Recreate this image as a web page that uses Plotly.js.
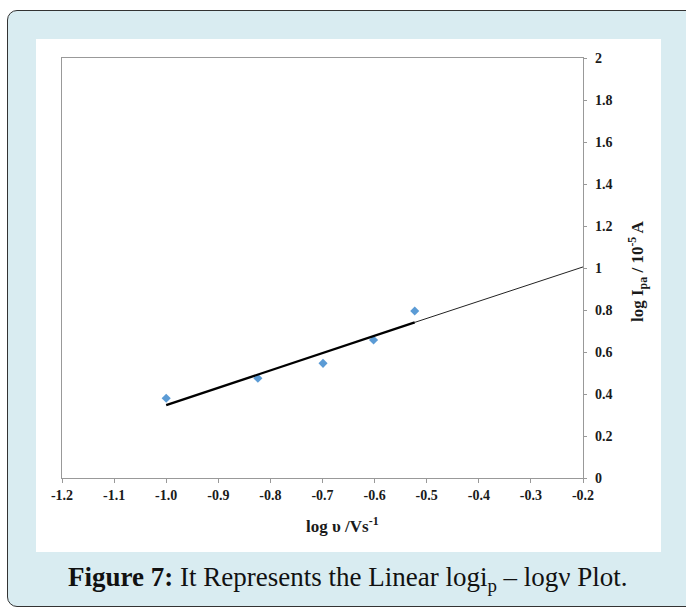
<!DOCTYPE html>
<html>
<head>
<meta charset="utf-8">
<script src="https://cdn.plot.ly/plotly-3.0.1.min.js"></script>
<style>
  html, body { margin: 0; padding: 0; background: #ffffff; width: 686px; height: 609px; overflow: hidden; }
  #frame { position: absolute; left: 7px; top: 10px; width: 700px; height: 595px;
           border: 1.5px solid #333; border-radius: 10px; background: #d9ecf1; }
  #plot { position: absolute; left: 0; top: 0; width: 686px; height: 609px; }
</style>
</head>
<body>
<div id="frame"></div>
<div id="plot"></div>
<script>
// Data
const scanLog = [-1.0, -0.824, -0.699, -0.602, -0.523];
const peakLog = [0.38, 0.475, 0.546, 0.657, 0.795];

// Trend line (thick part over data range, thin extension)
const fitX = [-1.0, -0.523];
const fitY = [0.347, 0.741];
const extX = [-0.523, -0.2];
const extY = [0.741, 1.005];

// Tick values / labels
const xTickVals = [-1.2, -1.1, -1.0, -0.9, -0.8, -0.7, -0.6, -0.5, -0.4, -0.3, -0.2];
const xTickText = ["-1.2", "-1.1", "-1.0", "-0.9", "-0.8", "-0.7", "-0.6", "-0.5", "-0.4", "-0.3", "-0.2"];
const yTickVals = [0, 0.2, 0.4, 0.6, 0.8, 1, 1.2, 1.4, 1.6, 1.8, 2];
const yTickText = ["0", "0.2", "0.4", "0.6", "0.8", "1", "1.2", "1.4", "1.6", "1.8", "2"];

const xTitle = "<b>log υ /Vs<sup>-1</sup></b>";
const yTitle = "<b>log I<sub>pa</sub> / 10<sup>-5</sup> A</b>";
const caption = "<b>Figure 7:</b> It Represents the Linear logi<sub>p</sub> – logν Plot.";

const W = 686, H = 609;
const L = 62, R = 583, T = 58, B = 478;
const px = v => (v - L) / (R - L);
const py = v => (B - v) / (B - T);
const bold = arr => arr.map(t => '<b>' + t + '</b>');

const traces = [
  { x: scanLog, y: peakLog, type: 'scatter', mode: 'markers',
    marker: { symbol: 'diamond', size: 7, color: '#5b9bd5' }, hoverinfo: 'skip' },
  { x: extX, y: extY, type: 'scatter', mode: 'lines',
    line: { color: '#222', width: 1 }, hoverinfo: 'skip' },
  { x: fitX, y: fitY, type: 'scatter', mode: 'lines',
    line: { color: '#000', width: 2.3 }, hoverinfo: 'skip' }
];

const serif = 'Liberation Serif, Times New Roman, serif';
const tickFont = { family: serif, size: 14, color: '#1a1a1a' };
const titleFont = { family: serif, size: 17, color: '#1a1a1a' };

const layout = {
  width: W, height: H,
  margin: { l: L, r: W - R, t: T, b: H - B, pad: 0 },
  paper_bgcolor: 'rgba(0,0,0,0)',
  plot_bgcolor: '#ffffff',
  showlegend: false,
  xaxis: {
    range: [-1.2, -0.2], tickmode: 'array', tickvals: xTickVals, ticktext: bold(xTickText),
    showgrid: false, zeroline: false, showline: true, mirror: true,
    linecolor: '#999', linewidth: 1.2,
    ticks: 'outside', ticklen: 4, tickcolor: '#999', tickwidth: 1,
    tickfont: tickFont
  },
  yaxis: {
    range: [0, 2], side: 'right', tickmode: 'array', tickvals: yTickVals, ticktext: bold(yTickText),
    showgrid: false, zeroline: false, showline: true, mirror: true,
    linecolor: '#999', linewidth: 1.2,
    ticks: 'outside', ticklen: 3, tickcolor: '#999', tickwidth: 1,
    ticklabelstandoff: 5,
    tickfont: tickFont
  },
  shapes: [
    { type: 'rect', xref: 'paper', yref: 'paper', layer: 'below',
      x0: px(36), x1: px(661), y0: py(552), y1: py(39),
      fillcolor: '#ffffff', line: { width: 0 } }
  ],
  annotations: [
    { xref: 'paper', yref: 'paper', x: px(342), y: py(525), xanchor: 'center', yanchor: 'middle',
      showarrow: false, text: xTitle, font: titleFont },
    { xref: 'paper', yref: 'paper', x: px(637), y: py(271), xanchor: 'center', yanchor: 'middle',
      showarrow: false, text: yTitle, textangle: -90, font: titleFont },
    { xref: 'paper', yref: 'paper', x: px(348), y: py(579), xanchor: 'center', yanchor: 'middle',
      showarrow: false, text: caption,
      font: { family: serif, size: 27, color: '#111' } }
  ]
};

Plotly.newPlot('plot', traces, layout, { displayModeBar: false, staticPlot: true });
</script>
</body>
</html>
